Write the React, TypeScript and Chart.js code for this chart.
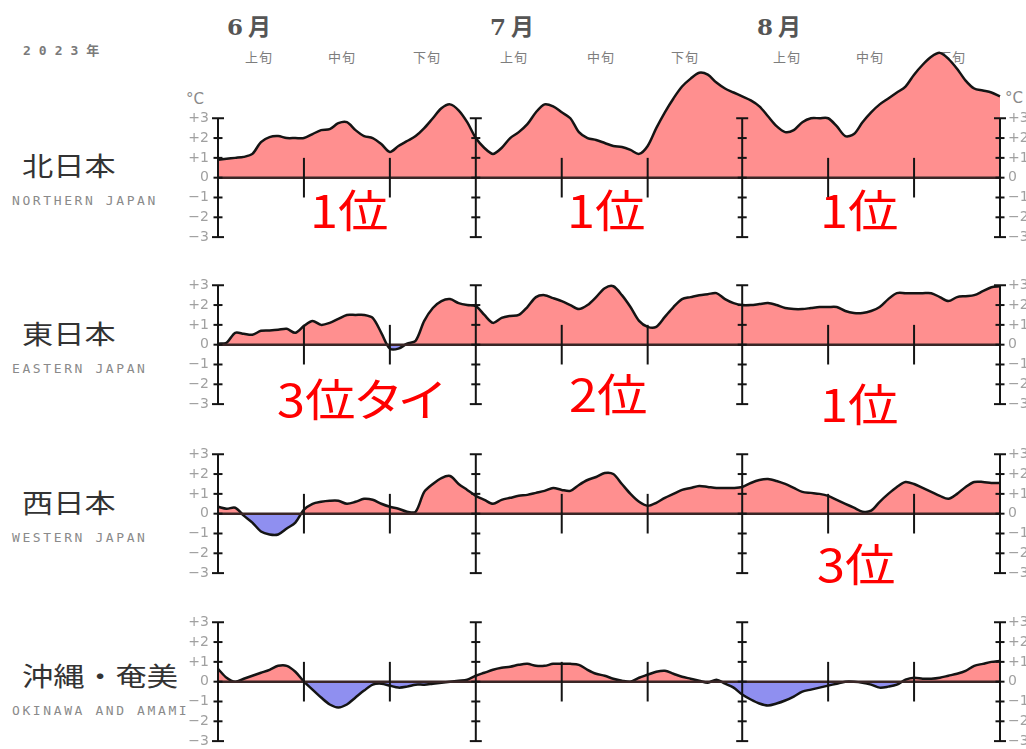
import React, { useEffect, useRef } from "react";
import { Chart, registerables } from "chart.js";

Chart.register(...registerables);

// Day index: 0 = June 1, 91 = August 31 (2023)
const dayIndex = Array.from({ length: 92 }, (_, i) => i);
const monthAxisDays = [0, 30, 61, 91];
const dekadTickDays = [10, 20, 40, 50, 71, 81];
const axisTicks = [-3, -2, -1, 0, 1, 2, 3];

const northernJapan = [
  0.9, 0.95, 1.0, 1.05, 1.2, 1.8, 2.05, 2.1, 2.0, 2.0,
  2.0, 2.2, 2.4, 2.45, 2.75, 2.8, 2.4, 2.1, 2.0, 1.7,
  1.3, 1.6, 1.85, 2.1, 2.5, 3.0, 3.5, 3.7, 3.4, 2.8,
  2.0, 1.5, 1.2, 1.5, 2.0, 2.3, 2.7, 3.3, 3.7, 3.6,
  3.3, 3.0, 2.3, 2.0, 1.9, 1.75, 1.6, 1.55, 1.4, 1.2,
  1.6, 2.5, 3.3, 4.0, 4.6, 5.0, 5.3, 5.2, 4.8, 4.5,
  4.3, 4.1, 3.9, 3.6, 3.1, 2.6, 2.3, 2.4, 2.8, 3.0,
  3.0, 3.0, 2.6, 2.1, 2.2, 2.8, 3.3, 3.7, 4.0, 4.3,
  4.6, 5.2, 5.7, 6.1, 6.3, 6.0, 5.5, 4.9, 4.5, 4.4,
  4.3, 4.1,
];

const easternJapan = [
  0.05, 0.1, 0.6, 0.55, 0.5, 0.7, 0.72, 0.75, 0.8, 0.6,
  0.95, 1.2, 1.0, 1.1, 1.3, 1.5, 1.5, 1.5, 1.35, 0.6,
  -0.2, -0.2, 0.05, 0.2, 1.2, 1.85, 2.2, 2.3, 2.1, 2.0,
  1.95, 1.5, 1.1, 1.35, 1.45, 1.5, 1.9, 2.4, 2.5, 2.35,
  2.2, 2.0, 1.8, 2.0, 2.4, 2.85, 2.95, 2.5, 1.9, 1.2,
  0.9, 0.9, 1.4, 1.9, 2.3, 2.4, 2.5, 2.55, 2.6, 2.3,
  2.1, 2.0, 2.0, 2.05, 2.1, 2.0, 1.85, 1.8, 1.8, 1.85,
  1.9, 1.9, 1.9, 1.7, 1.6, 1.6, 1.7, 1.9, 2.3, 2.6,
  2.6, 2.6, 2.6, 2.6, 2.4, 2.2, 2.4, 2.45, 2.5, 2.7,
  2.9, 2.95,
];

const westernJapan = [
  0.35, 0.25, 0.3, -0.1, -0.45, -0.9, -1.05, -1.05, -0.75, -0.45,
  0.2, 0.5, 0.6, 0.65, 0.65, 0.5, 0.6, 0.75, 0.7, 0.5,
  0.35, 0.25, 0.1, 0.1, 1.1, 1.5, 1.8, 1.9, 1.5, 1.2,
  0.9, 0.7, 0.5, 0.7, 0.8, 0.9, 0.95, 1.05, 1.15, 1.3,
  1.2, 1.15, 1.45, 1.7, 1.85, 2.05, 2.0, 1.5, 1.0, 0.6,
  0.4, 0.55, 0.8, 1.0, 1.2, 1.3, 1.4, 1.35, 1.3, 1.3,
  1.3, 1.35, 1.55, 1.7, 1.75, 1.65, 1.5, 1.3, 1.1, 1.05,
  1.0, 0.9, 0.7, 0.5, 0.3, 0.1, 0.15, 0.6, 1.0, 1.35,
  1.6, 1.5, 1.3, 1.1, 0.9, 0.75, 1.0, 1.35, 1.6, 1.6,
  1.55, 1.55,
];

const okinawaAmami = [
  0.65, 0.2, 0.0, 0.15, 0.3, 0.45, 0.6, 0.8, 0.8, 0.5,
  0.0, -0.4, -0.8, -1.15, -1.3, -1.15, -0.8, -0.45, -0.15, -0.1,
  -0.2, -0.3, -0.25, -0.15, -0.15, -0.1, -0.05, 0.0, 0.05, 0.1,
  0.3, 0.45, 0.6, 0.7, 0.75, 0.85, 0.9, 0.8, 0.8, 0.9,
  0.9, 0.9, 0.85, 0.6, 0.4, 0.3, 0.15, 0.05, 0.0, 0.2,
  0.35, 0.5, 0.55, 0.4, 0.25, 0.15, 0.05, -0.05, 0.1, -0.1,
  -0.3, -0.65, -0.9, -1.1, -1.2, -1.1, -0.95, -0.75, -0.5, -0.4,
  -0.3, -0.2, -0.1, 0.0, 0.0, -0.05, -0.15, -0.3, -0.25, -0.15,
  0.1, 0.2, 0.15, 0.15, 0.2, 0.3, 0.4, 0.55, 0.8, 0.9,
  1.0, 1.05,
];

const monthLabels = ["6月", "7月", "8月"];
const dekadLabels = ["上旬", "中旬", "下旬", "上旬", "中旬", "下旬", "上旬", "中旬", "下旬"];

const RED = "#ff8f8f";
const BLUE = "#8f8ff0";
const INK = "#141414";

const fmtTick = (v: number) => (v > 0 ? "+" + v : v < 0 ? "\u2212" + Math.abs(v) : "0");

const Y_MIN = -3.6;
const Y_MAX = 7;
const CANVAS_W = 1040;
const CANVAS_H = 250;

function yScale(position: "left" | "right", width: number) {
  return {
    type: "linear" as const,
    position,
    min: Y_MIN,
    max: Y_MAX,
    afterBuildTicks: (s: any) => {
      s.ticks = axisTicks.map((v) => ({ value: v }));
    },
    afterFit: (s: any) => {
      s.width = width;
    },
    grid: { display: false, drawTicks: false },
    border: { display: false },
    ticks: {
      autoSkip: false,
      padding: position === "left" ? 9 : 8,
      color: "#a0a0a0",
      font: { family: "DejaVu Sans", size: 14 },
      callback: (v: any) => fmtTick(Number(v)),
    },
  };
}

function Panel({ values, top }: { values: number[]; top: number }) {
  const ref = useRef<HTMLCanvasElement>(null);
  useEffect(() => {
    const datasets: any[] = [];
    datasets.push({
      data: values.map((v, i) => ({ x: dayIndex[i], y: v })),
      borderColor: INK,
      borderWidth: 2.5,
      tension: 0.3,
      pointRadius: 0,
      fill: { target: "origin", above: RED, below: BLUE },
      clip: false,
      order: 10,
    });
    datasets.push({
      data: [
        { x: dayIndex[0], y: 0 },
        { x: dayIndex[dayIndex.length - 1], y: 0 },
      ],
      borderColor: "#3a2626",
      borderWidth: 2.5,
      pointRadius: 0,
      fill: false,
      clip: false,
      order: 5,
    });
    dekadTickDays.forEach((d) => {
      datasets.push({
        data: [
          { x: d, y: -1 },
          { x: d, y: 1 },
        ],
        borderColor: INK,
        borderWidth: 2,
        pointRadius: 0,
        fill: false,
        clip: false,
        order: 2,
      });
    });
    monthAxisDays.forEach((d) => {
      datasets.push({
        data: axisTicks.map((t) => ({ x: d, y: t })),
        borderColor: INK,
        borderWidth: 2,
        pointStyle: "line",
        pointRadius: axisTicks.map((t) => (Math.abs(t) === 3 ? 6 : 4.5)),
        pointBorderColor: INK,
        pointBackgroundColor: INK,
        pointBorderWidth: 2,
        fill: false,
        clip: false,
        order: 1,
      });
    });
    const chart = new Chart(ref.current as HTMLCanvasElement, {
      type: "line",
      data: { datasets },
      options: {
        responsive: false,
        animation: false,
        events: [],
        layout: { padding: { top: 20, bottom: 20, left: 0, right: 0 } },
        plugins: { legend: { display: false }, tooltip: { enabled: false } },
        scales: {
          x: { type: "linear", min: 0, max: 91, display: false },
          y: yScale("left", 218),
          y2: yScale("right", CANVAS_W - 1000),
        },
      } as any,
    });
    return () => chart.destroy();
  }, []);
  return (
    <canvas
      ref={ref}
      width={CANVAS_W}
      height={CANVAS_H}
      style={{ position: "absolute", left: 0, top, width: CANVAS_W, height: CANVAS_H }}
    />
  );
}

const abs = (left: number, top: number, extra: React.CSSProperties = {}): React.CSSProperties => ({
  position: "absolute",
  left,
  top,
  whiteSpace: "nowrap",
  lineHeight: 1,
  ...extra,
});

const CJK = '"Noto Sans CJK JP", "Noto Sans", sans-serif';

export default function App() {
  const monthX = [227, 490, 757];
  const dekadX = [245, 328, 413, 500, 587, 671, 773, 856, 938];
  const regions = [
    { jp: "北日本", en: "NORTHERN JAPAN", y: 152 },
    { jp: "東日本", en: "EASTERN JAPAN", y: 320 },
    { jp: "西日本", en: "WESTERN JAPAN", y: 489 },
    { jp: "沖縄・奄美", en: "OKINAWA AND AMAMI", y: 662 },
  ];
  const ranks = [
    { t: "1位", x: 310, y: 186 },
    { t: "1位", x: 567, y: 186 },
    { t: "1位", x: 820, y: 186 },
    { t: "3位タイ", x: 277, y: 375 },
    { t: "2位", x: 569, y: 370 },
    { t: "1位", x: 820, y: 380 },
    { t: "3位", x: 817, y: 540 },
  ];
  return (
    <div
      style={{
        position: "fixed",
        left: 0,
        top: 0,
        width: 1026,
        height: 749,
        overflow: "hidden",
        background: "#fff",
        fontFamily: CJK,
      }}
    >
      <div style={abs(23, 44, { fontFamily: '"DejaVu Sans Mono", ' + CJK, fontSize: 13, fontWeight: 700, letterSpacing: 8, color: "#7a7a7a" })}>
        2023年
      </div>
      {monthLabels.map((m, i) => (
        <div key={"m" + i} style={abs(monthX[i], 15, { fontFamily: '"DejaVu Serif", ' + CJK, fontSize: 23, fontWeight: 700, letterSpacing: 5, color: "#555" })}>
          {m}
        </div>
      ))}
      {dekadLabels.map((d, i) => (
        <div key={"d" + i} style={abs(dekadX[i], 50, { fontSize: 13, color: "#7d7d7d", letterSpacing: 1 })}>
          {d}
        </div>
      ))}
      <div style={abs(186, 92, { fontFamily: "DejaVu Sans", fontSize: 15, color: "#8a8a8a" })}>°C</div>
      <div style={abs(1005, 91, { fontFamily: "DejaVu Sans", fontSize: 15, color: "#8a8a8a" })}>°C</div>
      {regions.map((r) => (
        <React.Fragment key={r.en}>
          <div style={abs(22, r.y, { fontSize: 26, color: "#333", transform: "scaleX(1.2)", transformOrigin: "left top" })}>
            {r.jp}
          </div>
          <div style={abs(12, r.y + 42, { fontFamily: '"DejaVu Sans Mono", monospace', fontSize: 13, letterSpacing: 2.6, color: "#8a8a8a" })}>
            {r.en}
          </div>
        </React.Fragment>
      ))}
      <Panel values={northernJapan} top={19} />
      <Panel values={easternJapan} top={186} />
      <Panel values={westernJapan} top={355} />
      <Panel values={okinawaAmami} top={523} />
      {ranks.map((r, i) => (
        <div
          key={"r" + i}
          style={abs(r.x, r.y, {
            fontSize: 45,
            color: "#ff0000",
            fontFeatureSettings: '"palt"',
            transform: "scaleX(1.12)",
            transformOrigin: "left top",
          })}
        >
          {r.t}
        </div>
      ))}
    </div>
  );
}
